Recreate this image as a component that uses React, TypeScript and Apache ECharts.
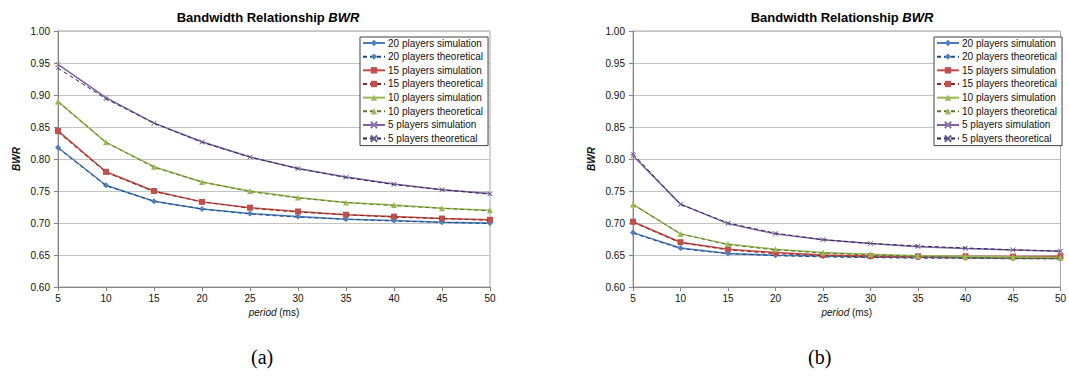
import React, { useEffect, useRef } from "react";
import * as echarts from "echarts";

const periods = [5, 10, 15, 20, 25, 30, 35, 40, 45, 50];
const yTicks = [0.6, 0.65, 0.7, 0.75, 0.8, 0.85, 0.9, 0.95, 1.0];

const seriesNames = [
  "20 players simulation",
  "20 players theoretical",
  "15 players simulation",
  "15 players theoretical",
  "10 players simulation",
  "10 players theoretical",
  "5 players simulation",
  "5 players theoretical",
];

// chart (a)
const a20sim = [0.818, 0.759, 0.734, 0.722, 0.715, 0.71, 0.706, 0.704, 0.701, 0.7];
const a20theo = [0.817, 0.758, 0.734, 0.722, 0.714, 0.709, 0.706, 0.703, 0.701, 0.699];
const a15sim = [0.844, 0.78, 0.75, 0.733, 0.724, 0.718, 0.713, 0.71, 0.707, 0.705];
const a15theo = [0.842, 0.779, 0.749, 0.733, 0.723, 0.717, 0.713, 0.709, 0.707, 0.704];
const a10sim = [0.89, 0.826, 0.788, 0.764, 0.75, 0.74, 0.732, 0.728, 0.723, 0.72];
const a10theo = [0.889, 0.826, 0.787, 0.764, 0.749, 0.739, 0.732, 0.727, 0.723, 0.719];
const a5sim = [0.948, 0.896, 0.856, 0.827, 0.803, 0.785, 0.772, 0.761, 0.752, 0.746];
const a5theo = [0.942, 0.894, 0.856, 0.826, 0.803, 0.785, 0.771, 0.76, 0.752, 0.745];

// chart (b)
const b20sim = [0.685, 0.661, 0.6525, 0.6495, 0.6485, 0.647, 0.647, 0.646, 0.645, 0.645];
const b20theo = [0.684, 0.66, 0.652, 0.649, 0.647, 0.646, 0.645, 0.645, 0.644, 0.644];
const b15sim = [0.702, 0.67, 0.659, 0.654, 0.65, 0.6485, 0.648, 0.648, 0.6475, 0.648];
const b15theo = [0.701, 0.669, 0.658, 0.652, 0.649, 0.647, 0.646, 0.645, 0.645, 0.644];
const b10sim = [0.729, 0.683, 0.667, 0.659, 0.654, 0.651, 0.649, 0.648, 0.647, 0.646];
const b10theo = [0.729, 0.683, 0.666, 0.658, 0.653, 0.65, 0.648, 0.646, 0.645, 0.645];
const b5sim = [0.805, 0.7295, 0.699, 0.683, 0.674, 0.668, 0.663, 0.66, 0.658, 0.656];
const b5theo = [0.808, 0.729, 0.7, 0.684, 0.674, 0.668, 0.664, 0.661, 0.658, 0.656];

const chartA = [a20sim, a20theo, a15sim, a15theo, a10sim, a10theo, a5sim, a5theo];
const chartB = [b20sim, b20theo, b15sim, b15theo, b10sim, b10theo, b5sim, b5theo];

const CROSS = "path://M0,0L10,10M0,10L10,0";

const styles = [
  { line: "#4A7EBB", marker: "#4F81BD", symbol: "diamond", size: 6, dash: "solid", width: 1.5 },
  { line: "#1F497D", marker: "#4F81BD", symbol: "diamond", size: 4, dash: [4, 3], width: 1 },
  { line: "#BE4B48", marker: "#C0504D", symbol: "rect", size: 6, dash: "solid", width: 1.5 },
  { line: "#7F2A28", marker: "#C0504D", symbol: "rect", size: 4, dash: [4, 3], width: 1 },
  { line: "#98B954", marker: "#9BBB59", symbol: "triangle", size: 6, dash: "solid", width: 1.5 },
  { line: "#5F7530", marker: "#9BBB59", symbol: "triangle", size: 4, dash: [4, 3], width: 1 },
  { line: "#7D60A0", marker: "#8C74AE", symbol: CROSS, size: 5, dash: "solid", width: 1.5 },
  { line: "#2E2552", marker: "#6A5C8C", symbol: CROSS, size: 4, dash: [4, 3], width: 1 },
];

const FONT = "Liberation Sans, Arial, sans-serif";

function buildSeries(values: number[][], gridIdx: number) {
  return values.map((vals, i) => {
    const s = styles[i];
    const isCross = s.symbol === CROSS;
    return {
      name: seriesNames[i],
      type: "line",
      xAxisIndex: gridIdx,
      yAxisIndex: gridIdx,
      data: periods.map((p, k) => [p, vals[k]]),
      symbol: s.symbol,
      symbolSize: s.size,
      showAllSymbol: true,
      lineStyle: { color: s.line, width: s.width, type: s.dash },
      itemStyle: isCross
        ? { color: "rgba(0,0,0,0)", borderColor: s.marker, borderWidth: 0.9 }
        : { color: s.marker, borderWidth: 0 },
      emphasis: { disabled: true },
      z: 2 + i,
    };
  });
}

function axesFor(gridIdx: number) {
  const xAxis = {
    type: "value",
    gridIndex: gridIdx,
    min: 5,
    max: 50,
    interval: 5,
    name: "{i|period} (ms)",
    nameLocation: "middle",
    nameGap: 20,
    nameTextStyle: {
      fontFamily: FONT,
      fontSize: 10,
      color: "#111",
      rich: { i: { fontStyle: "italic", fontFamily: FONT, fontSize: 10, color: "#111" } },
    },
    axisLine: { show: true, lineStyle: { color: "#868686", width: 1 } },
    axisTick: { show: true, length: 4, lineStyle: { color: "#868686" } },
    axisLabel: { fontFamily: FONT, fontSize: 10, color: "#111", margin: 6 },
    splitLine: { show: false },
  };
  const yAxis = {
    type: "value",
    gridIndex: gridIdx,
    min: 0.6,
    max: 1.0,
    interval: 0.05,
    name: "BWR",
    nameLocation: "middle",
    nameGap: 37,
    nameRotate: 90,
    nameTextStyle: {
      fontFamily: FONT,
      fontSize: 10,
      fontWeight: "bold",
      fontStyle: "italic",
      color: "#111",
    },
    axisLine: { show: true, lineStyle: { color: "#868686", width: 1 } },
    axisTick: { show: true, length: 4, lineStyle: { color: "#868686" } },
    axisLabel: {
      fontFamily: FONT,
      fontSize: 10,
      color: "#111",
      margin: 8,
      formatter: (v: number) => {
        const t = yTicks.find((y) => Math.abs(y - v) < 1e-6);
        return (t !== undefined ? t : v).toFixed(2);
      },
    },
    splitLine: { show: true, lineStyle: { color: "#C4C4C4", width: 1 } },
  };
  return { xAxis, yAxis };
}

function legendFor(left: number) {
  return {
    orient: "vertical",
    left,
    top: 37,
    data: seriesNames,
    itemWidth: 22,
    itemHeight: 8,
    itemGap: 1.66,
    padding: [0, 5, 1, 2],
    borderColor: "#404040",
    borderWidth: 1,
    borderRadius: 0,
    backgroundColor: "#ffffff",
    selectedMode: false,
    textStyle: { fontFamily: FONT, fontSize: 10, color: "#111", lineHeight: 12, padding: [0, 0, 0, -2] },
  };
}

function titleFor(x: number) {
  return {
    text: "{a|Bandwidth Relationship }{b|BWR}",
    left: x,
    top: 6,
    textAlign: "center",
    textStyle: {
      rich: {
        a: { fontFamily: FONT, fontSize: 13, fontWeight: "bold", color: "#000" },
        b: { fontFamily: FONT, fontSize: 13, fontWeight: "bold", fontStyle: "italic", color: "#000" },
      },
    },
  };
}

export default function App() {
  const ref = useRef<HTMLDivElement>(null);
  useEffect(() => {
    if (!ref.current) return;
    const chart = echarts.init(ref.current, null, { renderer: "svg" });
    const a = axesFor(0);
    const b = axesFor(1);
    chart.setOption({
      animation: false,
      backgroundColor: "#ffffff",
      title: [titleFor(263), titleFor(837)],
      grid: [
        { left: 58, top: 31, width: 432, height: 256, show: true, borderColor: "#A6A6A6", borderWidth: 1, backgroundColor: "transparent" },
        { left: 633, top: 31, width: 431, height: 256, show: true, borderColor: "#A6A6A6", borderWidth: 1, backgroundColor: "transparent" },
      ],
      xAxis: [a.xAxis, b.xAxis],
      yAxis: [a.yAxis, b.yAxis],
      legend: [legendFor(360), legendFor(934)],
      series: [...buildSeries(chartA, 0), ...buildSeries(chartB, 1)],
      graphic: [
        {
          type: "text",
          left: 251,
          top: 347,
          style: { text: "(a)", font: "20px 'Liberation Serif', 'Times New Roman', serif", fill: "#000" },
        },
        {
          type: "text",
          left: 808,
          top: 347,
          style: { text: "(b)", font: "20px 'Liberation Serif', 'Times New Roman', serif", fill: "#000" },
        },
      ],
    });
    return () => chart.dispose();
  }, []);
  return (
    <div
      ref={ref}
      style={{ position: "fixed", left: 0, top: 0, width: 1069, height: 378, background: "#fff" }}
    />
  );
}
